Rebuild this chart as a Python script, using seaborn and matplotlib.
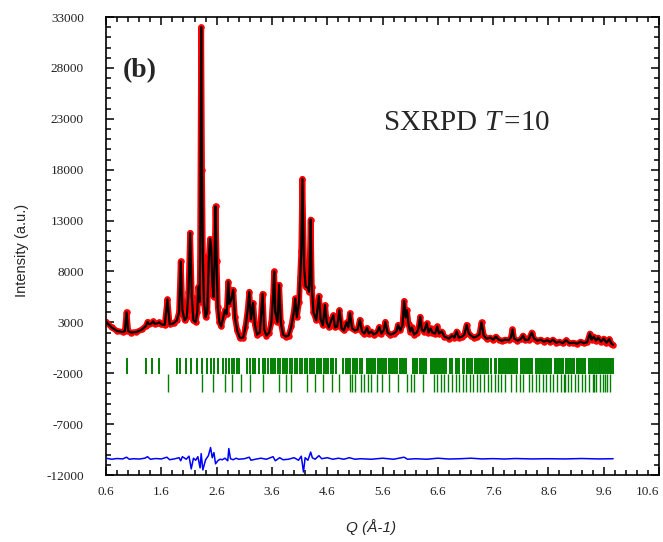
import numpy as np
import pandas as pd
import seaborn as sns
from matplotlib import pyplot as plt
from matplotlib.ticker import FixedLocator, MultipleLocator

#############################################
# Data
#############################################
# calculated / observed profile (Q in 1/A, intensity in a.u.)
profile_q = [0.60, 0.70, 0.80, 0.90, 0.94, 0.97, 1.00, 1.05, 1.15, 1.25, 1.32, 1.35, 1.38, 1.42, 1.45,
             1.48, 1.53, 1.56, 1.60, 1.66, 1.71, 1.75, 1.82, 1.88, 1.92, 1.95, 1.98, 2.02, 2.06, 2.09,
             2.12, 2.15, 2.18, 2.22, 2.25, 2.27, 2.29, 2.30, 2.32, 2.335, 2.35, 2.37, 2.40, 2.43, 2.46,
             2.48, 2.50, 2.52, 2.545, 2.56, 2.58, 2.60, 2.62, 2.65, 2.68, 2.72, 2.75, 2.78, 2.81, 2.83,
             2.86, 2.90, 2.93, 2.97, 3.02, 3.08, 3.12, 3.16, 3.19, 3.22, 3.26, 3.29, 3.33, 3.38, 3.43,
             3.46, 3.50, 3.55, 3.59, 3.62, 3.64, 3.66, 3.70, 3.73, 3.76, 3.80, 3.85, 3.90, 3.95, 4.00,
             4.02, 4.05, 4.09, 4.11, 4.13, 4.15, 4.18, 4.21, 4.25, 4.27, 4.28, 4.30, 4.32, 4.35, 4.40,
             4.45, 4.48, 4.52, 4.56, 4.59, 4.63, 4.67, 4.71, 4.74, 4.78, 4.82, 4.86, 4.90, 4.95, 4.98,
             5.01, 5.05, 5.10, 5.15, 5.19, 5.23, 5.27, 5.32, 5.35, 5.40, 5.44, 5.50, 5.54, 5.58, 5.62,
             5.65, 5.69, 5.74, 5.80, 5.85, 5.88, 5.92, 5.96, 5.99, 6.02, 6.04, 6.07, 6.10, 6.13, 6.17,
             6.22, 6.25, 6.28, 6.31, 6.35, 6.40, 6.43, 6.47, 6.50, 6.55, 6.59, 6.62, 6.67, 6.72, 6.80,
             6.86, 6.90, 6.94, 6.98, 7.04, 7.08, 7.12, 7.16, 7.20, 7.25, 7.30, 7.35, 7.39, 7.43, 7.48,
             7.55, 7.60, 7.65, 7.70, 7.76, 7.82, 7.88, 7.92, 7.95, 7.98, 8.04, 8.10, 8.14, 8.18, 8.24,
             8.30, 8.34, 8.40, 8.46, 8.52, 8.58, 8.63, 8.68, 8.74, 8.80, 8.86, 8.92, 8.98, 9.05, 9.12,
             9.18, 9.24, 9.30, 9.35, 9.38, 9.42, 9.46, 9.50, 9.55, 9.60, 9.65, 9.70, 9.74, 9.77]
profile_i = [3060, 2500, 2150, 2050, 2150, 4000, 2150, 2000, 2050, 2300, 2650, 3050, 2800, 2900, 3100,
             2850, 2900, 3000, 2800, 2750, 5250, 2800, 2900, 3200, 4000, 9000, 4200, 3200, 3500, 6000,
             11800, 5500, 3200, 3000, 4000, 6500, 5000, 9000, 32000, 18000, 9500, 5000, 3500, 4000, 9500,
             11200, 10500, 7000, 5500, 8500, 14400, 9000, 4500, 3000, 2600, 3500, 4200, 3800, 7000, 4800,
             5200, 6200, 3500, 2200, 1450, 1500, 2500, 4200, 6000, 3300, 4900, 2800, 1800, 2000, 5800,
             2300, 1700, 2000, 3000, 5500, 8000, 4000, 3000, 6700, 3000, 1800, 1600, 1700, 2600, 4200,
             5350, 3500, 5000, 7500, 10000, 17100, 8500, 6500, 6400, 6000, 8000, 13100, 6500, 4000, 3200,
             5600, 3300, 2700, 4700, 3000, 2500, 3200, 3700, 2500, 2600, 4200, 2400, 2200, 3000, 2500,
             3900, 2400, 2200, 2300, 3250, 2100, 1900, 2450, 1900, 2100, 1800, 2000, 2550, 1900, 2200,
             3050, 2000, 1800, 1900, 2100, 2750, 2200, 2700, 5100, 3500, 4200, 2800, 2100, 2500, 1800,
             2000, 2400, 3550, 2300, 2100, 2900, 2000, 2400, 2000, 1900, 2600, 1900, 2100, 1600, 1400,
             1700, 1500, 2100, 1500, 1600, 1800, 2750, 1900, 1700, 1500, 1600, 1800, 3000, 1700, 1400,
             1500, 1300, 1600, 1300, 1200, 1300, 1250, 1500, 2300, 1400, 1200, 1350, 1700, 1250, 1300,
             2000, 1400, 1200, 1300, 1100, 1250, 1050, 1300, 1000, 1100, 950, 1250, 950, 1000, 900,
             1100, 950, 1050, 1900, 1300, 1600, 1200, 1500, 1100, 1400, 1000, 1350, 900, 800]

# difference curve (observed - calculated, shifted down)
diff_q = [0.60, 0.70, 0.80, 0.90, 0.97, 1.02, 1.10, 1.20, 1.30, 1.35, 1.40, 1.50, 1.60, 1.70, 1.75,
          1.85, 1.92, 1.95, 1.98, 2.05, 2.10, 2.14, 2.18, 2.22, 2.26, 2.30, 2.32, 2.35, 2.40, 2.45,
          2.49, 2.52, 2.55, 2.58, 2.62, 2.66, 2.70, 2.75, 2.80, 2.82, 2.85, 2.90, 2.95, 3.00, 3.10,
          3.19, 3.22, 3.30, 3.40, 3.50, 3.62, 3.66, 3.74, 3.80, 3.90, 4.00, 4.08, 4.13, 4.17, 4.20,
          4.25, 4.30, 4.33, 4.38, 4.45, 4.50, 4.60, 4.70, 4.80, 4.90, 5.00, 5.10, 5.20, 5.40, 5.60,
          5.80, 5.99, 6.05, 6.20, 6.40, 6.60, 6.80, 7.00, 7.20, 7.40, 7.60, 7.80, 8.00, 8.30, 8.60,
          8.90, 9.20, 9.50, 9.77]
diff_i = [-10350, -10450, -10380, -10420, -10250, -10450, -10400, -10430, -10350, -10200, -10450,
          -10380, -10420, -10250, -10500, -10400, -10300, -10600, -10200, -10450, -10150, -11400,
          -10350, -10550, -10200, -11300, -9900, -11500, -10500, -10100, -9300, -10300, -9800, -10900,
          -10600, -10450, -10500, -10350, -10600, -9400, -10400, -10500, -10350, -10450, -10400,
          -10250, -10550, -10450, -10350, -10450, -10200, -10600, -10300, -10500, -10450, -10300,
          -10550, -10150, -11700, -10300, -10550, -9750, -10300, -10450, -10100, -10400, -10300,
          -10450, -10350, -10450, -10300, -10450, -10400, -10450, -10350, -10450, -10250, -10450,
          -10400, -10450, -10350, -10430, -10400, -10350, -10420, -10390, -10430, -10380, -10420,
          -10400, -10420, -10380, -10420, -10400]

# Bragg reflection positions, phase 1 (upper row) and phase 2 (lower row)
phase1_q = [0.98, 1.33, 1.43, 1.56, 1.88, 1.94, 2.04, 2.14, 2.24, 2.33, 2.43, 2.49, 2.56, 2.62, 2.72,
            2.76, 2.82, 2.87, 2.91, 2.96, 3.01, 3.14, 3.20, 3.26, 3.30, 3.37, 3.43, 3.48, 3.53, 3.59,
            3.62, 3.66, 3.71, 3.75, 3.80, 3.84, 3.88, 3.93, 3.97, 4.02, 4.06, 4.10, 4.15, 4.19, 4.23,
            4.28, 4.32, 4.36, 4.41, 4.45, 4.49, 4.54, 4.58, 4.62, 4.67, 4.71, 4.75, 4.89, 4.93, 4.97,
            5.02, 5.06, 5.10, 5.14, 5.19, 5.22, 5.31, 5.35, 5.39, 5.43, 5.47, 5.51, 5.55, 5.59, 5.63,
            5.67, 5.71, 5.75, 5.79, 5.83, 5.87, 5.91, 5.95, 5.99, 6.03, 6.15, 6.19, 6.23, 6.27, 6.31,
            6.35, 6.39, 6.48, 6.51, 6.55, 6.58, 6.62, 6.65, 6.69, 6.72, 6.75, 6.82, 6.85, 6.92, 6.95,
            6.98, 7.05, 7.08, 7.12, 7.15, 7.18, 7.21, 7.28, 7.31, 7.34, 7.38, 7.41, 7.44, 7.47, 7.50,
            7.56, 7.63, 7.66, 7.70, 7.73, 7.76, 7.80, 7.83, 7.86, 7.90, 7.93, 7.96, 8.00, 8.03, 8.11,
            8.14, 8.18, 8.21, 8.24, 8.28, 8.31, 8.38, 8.41, 8.44, 8.48, 8.51, 8.54, 8.58, 8.61, 8.64,
            8.71, 8.74, 8.77, 8.81, 8.84, 8.87, 8.91, 8.94, 8.97, 9.01, 9.04, 9.07, 9.11, 9.14, 9.17,
            9.21, 9.24, 9.27, 9.34, 9.37, 9.41, 9.44, 9.47, 9.51, 9.54, 9.57, 9.61, 9.64, 9.67, 9.71,
            9.74, 9.76]
phase2_q = [1.72, 2.33, 2.53, 2.75, 2.88, 3.04, 3.20, 3.43, 3.72, 3.85, 3.95, 4.24, 4.37, 4.53, 4.69,
            4.82, 5.01, 5.04, 5.11, 5.21, 5.27, 5.34, 5.40, 5.50, 5.59, 5.72, 5.88, 6.05, 6.11, 6.17,
            6.34, 6.53, 6.59, 6.66, 6.72, 6.79, 6.85, 6.92, 6.98, 7.05, 7.11, 7.18, 7.24, 7.30, 7.37,
            7.43, 7.50, 7.56, 7.63, 7.69, 7.75, 7.82, 7.92, 8.02, 8.08, 8.14, 8.24, 8.31, 8.37, 8.43,
            8.50, 8.56, 8.63, 8.69, 8.76, 8.82, 8.88, 8.90, 8.95, 9.01, 9.08, 9.14, 9.21, 9.27, 9.33,
            9.40, 9.43, 9.46, 9.53, 9.59, 9.62, 9.66, 9.72]

x_ticks = [0.6, 1.6, 2.6, 3.6, 4.6, 5.6, 6.6, 7.6, 8.6, 9.6, 10.6]
x_tick_labels = ["0.6", "1.6", "2.6", "3.6", "4.6", "5.6", "6.6", "7.6", "8.6", "9.6", "10.6"]
y_ticks = [-12000, -7000, -2000, 3000, 8000, 13000, 18000, 23000, 28000, 33000]

#############################################
# Style
#############################################
sns.set_style("ticks")
plt.rcParams['font.family'] = ['Liberation Serif', 'DejaVu Sans']
plt.rcParams['mathtext.fontset'] = 'custom'
plt.rcParams['mathtext.rm'] = 'Liberation Serif'
plt.rcParams['mathtext.it'] = 'Liberation Serif:italic'

df = pd.DataFrame({"Q": profile_q, "I": profile_i})
diff_df = pd.DataFrame({"Q": diff_q, "I": diff_i})

fig, ax = plt.subplots(figsize=(6.63, 5.42), dpi=100)
fig.subplots_adjust(left=0.16, right=0.994, bottom=0.1236, top=0.9686)

# observed (red band + dots), calculated (black)
sns.lineplot(data=df, x="Q", y="I", ax=ax, color="red", linewidth=4.2,
             estimator=None, sort=False, zorder=1)
sns.scatterplot(data=df, x="Q", y="I", ax=ax, color="red", s=22, linewidth=0, zorder=2)
sns.lineplot(data=df, x="Q", y="I", ax=ax, color="black", linewidth=1.6,
             estimator=None, sort=False, zorder=3)

# reflection markers
ax.vlines(phase1_q, -2100, -500, colors="#008000", linewidth=1.4, zorder=2)
ax.vlines(phase2_q, -3800, -2100, colors="#008000", linewidth=1.0, zorder=2)

# difference curve
sns.lineplot(data=diff_df, x="Q", y="I", ax=ax, color="#0000ff", linewidth=1.1,
             estimator=None, sort=False, zorder=3)

ax.set_xlim(0.6, 10.6)
ax.set_ylim(-12000, 33000)
ax.xaxis.set_major_locator(FixedLocator(x_ticks))
ax.set_xticklabels(x_tick_labels)
ax.xaxis.set_minor_locator(MultipleLocator(0.2))
ax.yaxis.set_major_locator(FixedLocator(y_ticks))
ax.set_yticklabels([str(v) for v in y_ticks])
ax.yaxis.set_minor_locator(MultipleLocator(1000))
# last label sits at the figure edge: keep it inside
ax.get_xticklabels()[-1].set_horizontalalignment("right")

ax.tick_params(which="both", direction="in", top=True, right=True, color="black", width=1.1)
ax.tick_params(which="major", length=6)
ax.tick_params(which="minor", length=3.4)
ax.tick_params(axis="x", which="major", pad=8, labelsize=9.5, labelcolor="#222222")
ax.tick_params(axis="y", which="major", pad=16, labelsize=9.5, labelcolor="#222222")
for s in ax.spines.values():
    s.set_linewidth(1.2)
    s.set_color("black")

ax.set_xlabel("Q (Å-1)", family="Liberation Sans", style="italic", fontsize=11)
ax.set_ylabel("Intensity (a.u.)", family="Liberation Sans", fontsize=10.5)
ax.xaxis.set_label_coords(0.479, -0.097)
ax.yaxis.set_label_coords(-0.139, 0.49)

ax.text(0.031, 0.884, "(b)", transform=ax.transAxes, va="center", ha="left",
        fontsize=20, fontweight="bold")
ax.text(0.501, 0.753, r"SXRPD $T\,$=10", transform=ax.transAxes, va="baseline", ha="left",
        fontsize=21)

plt.savefig("out.png", dpi=100)
